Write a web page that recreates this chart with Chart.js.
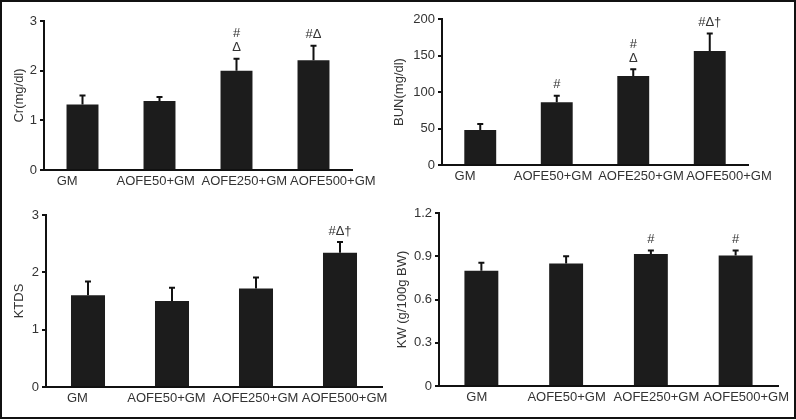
<!DOCTYPE html>
<html lang="en">
<head>
  <meta charset="UTF-8">
  <title>Renal function with AOFE</title>
  <script src="https://cdn.jsdelivr.net/npm/chart.js"></script>
  <style>
    body {
      margin: 0;
      background: #fff;
      font-family: "Liberation Sans", Arial, sans-serif;
    }
    #frame {
      position: absolute;
      left: 0; top: 0;
      width: 796px; height: 419px;
      box-sizing: border-box;
      border: 2px solid #111;
    }
    canvas { position: absolute; }
  </style>
</head>
<body>
  <div id="frame"></div>
  <canvas id="cr" width="396" height="200" style="left:0;top:0"></canvas>
  <canvas id="bun" width="404" height="200" style="left:392px;top:0"></canvas>
  <canvas id="ktds" width="396" height="218" style="left:0;top:200px"></canvas>
  <canvas id="kw" width="404" height="218" style="left:392px;top:200px"></canvas>

  <script>
    const groups = ['GM', 'AOFE50+GM', 'AOFE250+GM', 'AOFE500+GM'];

    // Cr (mg/dl)
    const crMean = [1.32, 1.39, 2.00, 2.21];
    const crErr = [0.18, 0.08, 0.24, 0.29];
    const crMarks = ['', '', '#\nΔ', '#Δ'];

    // BUN (mg/dl)
    const bunMean = [48, 86, 122, 156];
    const bunErr = [8, 9, 9, 24];
    const bunMarks = ['', '#', '#\nΔ', '#Δ†'];

    // KTDS
    const ktdsMean = [1.60, 1.50, 1.72, 2.34];
    const ktdsErr = [0.24, 0.23, 0.19, 0.19];
    const ktdsMarks = ['', '', '', '#Δ†'];

    // KW (g/100g BW)
    const kwMean = [0.80, 0.85, 0.915, 0.905];
    const kwErr = [0.055, 0.05, 0.025, 0.035];
    const kwMarks = ['', '', '#', '#'];

    const ink = '#111';
    const textCol = '#333';
    const fontFamily = '"Liberation Sans", Arial, sans-serif';
    const font13 = { family: fontFamily, size: 13 };

    // upper error bar + significance marks above each bar,
    // and the group labels (set a bit wider apart than the bars, like the original)
    const errorPlugin = {
      id: 'errorBars',
      afterDatasetsDraw(chart, args, opts) {
        const ctx = chart.ctx;
        const y = chart.scales.y;
        const ds = chart.data.datasets[0];
        const meta = chart.getDatasetMeta(0);
        meta.data.forEach((bar, i) => {
          const top = y.getPixelForValue(ds.data[i] + ds.err[i]);
          ctx.save();
          ctx.strokeStyle = ink;
          ctx.lineWidth = 2;
          ctx.beginPath();
          ctx.moveTo(bar.x, bar.y);
          ctx.lineTo(bar.x, top);
          ctx.moveTo(bar.x - 3, top);
          ctx.lineTo(bar.x + 3, top);
          ctx.stroke();

          const mark = ds.marks[i];
          if (mark) {
            const lines = mark.split('\n');
            ctx.fillStyle = textCol;
            ctx.font = '13px ' + fontFamily;
            ctx.textAlign = 'center';
            ctx.textBaseline = 'middle';
            lines.reverse().forEach((ln, k) => {
              ctx.fillText(ln, bar.x, top - 11 - k * 14);
            });
          }
          ctx.restore();
        });

        // category labels
        const xs = meta.data.map(b => b.x);
        const mid = xs.reduce((a, b) => a + b, 0) / xs.length;
        ctx.save();
        ctx.fillStyle = textCol;
        ctx.font = '13px ' + fontFamily;
        ctx.textAlign = 'center';
        ctx.textBaseline = 'middle';
        chart.data.labels.forEach((lab, i) => {
          const lx = mid + opts.spread * (xs[i] - mid) + opts.shift;
          ctx.fillText(lab, lx, chart.chartArea.bottom + 11);
        });
        ctx.restore();
      }
    };

    function makeChart(id, mean, err, marks, opt) {
      return new Chart(document.getElementById(id), {
        type: 'bar',
        data: {
          labels: groups,
          datasets: [{
            data: mean,
            err: err,
            marks: marks,
            backgroundColor: '#1c1c1c',
            borderWidth: 0,
            barPercentage: opt.barPct,
            categoryPercentage: 1
          }]
        },
        options: {
          responsive: false,
          animation: false,
          layout: { padding: { top: opt.padTop, right: opt.padRight, left: 0, bottom: 0 } },
          plugins: {
            legend: { display: false },
            tooltip: { enabled: false },
            errorBars: { spread: opt.spread, shift: opt.shift }
          },
          scales: {
            x: {
              grid: { display: false, drawTicks: false },
              border: { display: true, color: ink, width: 2 },
              ticks: { display: false },
              afterFit: s => { s.height = opt.xHeight; }
            },
            y: {
              min: 0,
              max: opt.max,
              grid: { drawOnChartArea: false, drawTicks: true, tickLength: 4, color: ink, lineWidth: 2 },
              border: { display: true, color: ink, width: 2 },
              ticks: {
                stepSize: opt.step,
                color: textCol,
                font: font13,
                padding: 3,
                callback: v => opt.fmt ? opt.fmt(v) : v
              },
              title: {
                display: true,
                text: opt.title,
                color: textCol,
                font: font13,
                padding: { top: opt.titlePad, bottom: 0 }
              },
              afterFit: s => { s.width = opt.yWidth; }
            }
          }
        },
        plugins: [errorPlugin]
      });
    }

    makeChart('cr', crMean, crErr, crMarks, {
      max: 3, step: 1, title: 'Cr(mg/dl)', titlePad: 12,
      yWidth: 44, xHeight: 30, padTop: 21, padRight: 44, barPct: 0.415,
      spread: 1.15, shift: 2
    });

    makeChart('bun', bunMean, bunErr, bunMarks, {
      max: 200, step: 50, title: 'BUN(mg/dl)', titlePad: 0,
      yWidth: 50, xHeight: 35, padTop: 19, padRight: 48, barPct: 0.417,
      spread: 1.15, shift: 2
    });

    makeChart('ktds', ktdsMean, ktdsErr, ktdsMarks, {
      max: 3, step: 1, title: 'KTDS', titlePad: 12,
      yWidth: 46, xHeight: 31, padTop: 15, padRight: 14, barPct: 0.405,
      spread: 1.06, shift: -3
    });

    makeChart('kw', kwMean, kwErr, kwMarks, {
      max: 1.2, step: 0.3, title: 'KW (g/100g BW)', titlePad: 3,
      yWidth: 47, xHeight: 32, padTop: 13, padRight: 18, barPct: 0.40,
      spread: 1.06, shift: 3,
      fmt: v => v === 0 ? '0' : v.toFixed(1)
    });
  </script>
</body>
</html>
